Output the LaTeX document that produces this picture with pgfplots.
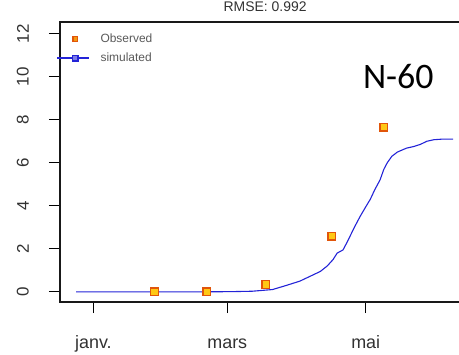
\documentclass[border=0pt]{standalone}
\usepackage{pgfplots}
\pgfplotsset{compat=1.18}
\usepackage{fontspec}
\setmainfont{Liberation Sans}
\newfontfamily\calibri{Carlito}
\definecolor{simblue}{RGB}{35,35,215}
\definecolor{obsedge}{RGB}{225,85,10}
\definecolor{obsfill}{RGB}{255,200,20}
\definecolor{txt}{RGB}{50,50,50}
\definecolor{axc}{RGB}{25,25,25}
\begin{document}
\begin{tikzpicture}
\begin{axis}[
  name=main,
  scale only axis,
  width=399bp, height=280bp,
  xmin=-14.7, xmax=161.1,
  ymin=-0.47, ymax=12.54,
  axis x line*=bottom, axis y line*=left,
  x axis line style={-, draw=black, line width=1.5pt},
  y axis line style={-, draw=black, line width=1.5pt},
  xtick={0,59,120},
  xticklabels={janv.,mars,mai},
  ytick={0,2,4,6,8,10,12},
  /pgf/number format/assume math mode=true,
  tick align=outside,
  major tick length=11bp,
  xtick style={draw=black, line width=1.2pt},
  ytick style={draw=black, line width=1.2pt},
  minor tick num=0,
  xticklabel style={font=\fontsize{18}{18}\selectfont, text=txt, anchor=base, yshift=-35bp},
  yticklabel style={font=\fontsize{17}{17}\selectfont, text=txt, rotate=90, anchor=south, inner sep=0pt, yshift=20bp},
  title={RMSE: 0.992},
  title style={font=\fontsize{14}{14}\selectfont, text=txt, at={(0.514,1)}, anchor=base, yshift=5bp, inner sep=0pt},
  legend style={draw=none, fill=none, at={(-0.008,0.965)}, anchor=north west,
    font=\fontsize{12}{12}\selectfont, text=black!65, row sep=5bp, inner sep=0pt},
  legend cell align=left,
  clip=false,
]
\addplot[only marks, mark=square*, mark size=3.8bp,
  mark options={fill=obsfill, draw=obsedge, line width=1.3pt},
  legend image code/.code={
    \path[draw=none, fill=none] (0bp,0bp) -- (41bp,0bp);
    \draw[obsedge, line width=1.2pt, fill=obsfill!60!obsedge] (15.5bp,-2.2bp) rectangle (19.9bp,2.2bp);
  }]
  coordinates {(27,0) (50,0) (76,0.34) (105,2.59) (128,7.65)};
\addlegendentry{Observed}
\addplot[simblue, line width=1.1pt, no marks,
  legend image code/.code={
    \path[draw=none, fill=none] (0bp,0bp) -- (41bp,0bp);
    \fill[simblue] (0bp,-0.6bp) rectangle (31bp,0.6bp);
    \draw[simblue, line width=1.2pt, fill=simblue!60] (15bp,-2.7bp) rectangle (20.4bp,2.7bp);
  }]
  coordinates {(-7.6,0) (0,0) (20,0) (40,0) (60,0.01) (70,0.03) (79,0.11) (85,0.3)
    (91,0.5) (96,0.75) (100,0.95) (103,1.2) (105.6,1.5) (107.4,1.8) (110,1.95)
    (112,2.35) (115,3.0) (117.5,3.5) (120,3.95) (122,4.3) (124,4.75) (126.3,5.2)
    (128,5.7) (129.5,6.0) (131.5,6.3) (134,6.5) (138,6.68) (141,6.75) (144,6.85)
    (147,7.0) (150,7.07) (154,7.1) (158.5,7.1)};
\addlegendentry{simulated}
% frame as thin filled strips (left, bottom, top)
\fill[axc] ([xshift=-0.8bp,yshift=0.8bp]rel axis cs:0,1) rectangle ([xshift=0.8bp,yshift=-0.8bp]rel axis cs:0,0);
\fill[axc] ([xshift=-0.8bp,yshift=0.8bp]rel axis cs:0,0) rectangle ([yshift=-0.8bp]rel axis cs:1,0);
\fill[axc] ([xshift=-0.8bp,yshift=0.8bp]rel axis cs:0,1) rectangle ([yshift=-0.8bp]rel axis cs:1,1);
\node[anchor=base west, inner sep=0pt, font=\calibri\fontsize{36}{36}\selectfont]
  at (rel axis cs:0.759,0.764) {N-60};
\end{axis}
\pgfresetboundingbox
\path ([xshift=-60bp,yshift=-53bp]main.south west) rectangle ([yshift=22bp]main.north east);
\end{tikzpicture}
\end{document}
